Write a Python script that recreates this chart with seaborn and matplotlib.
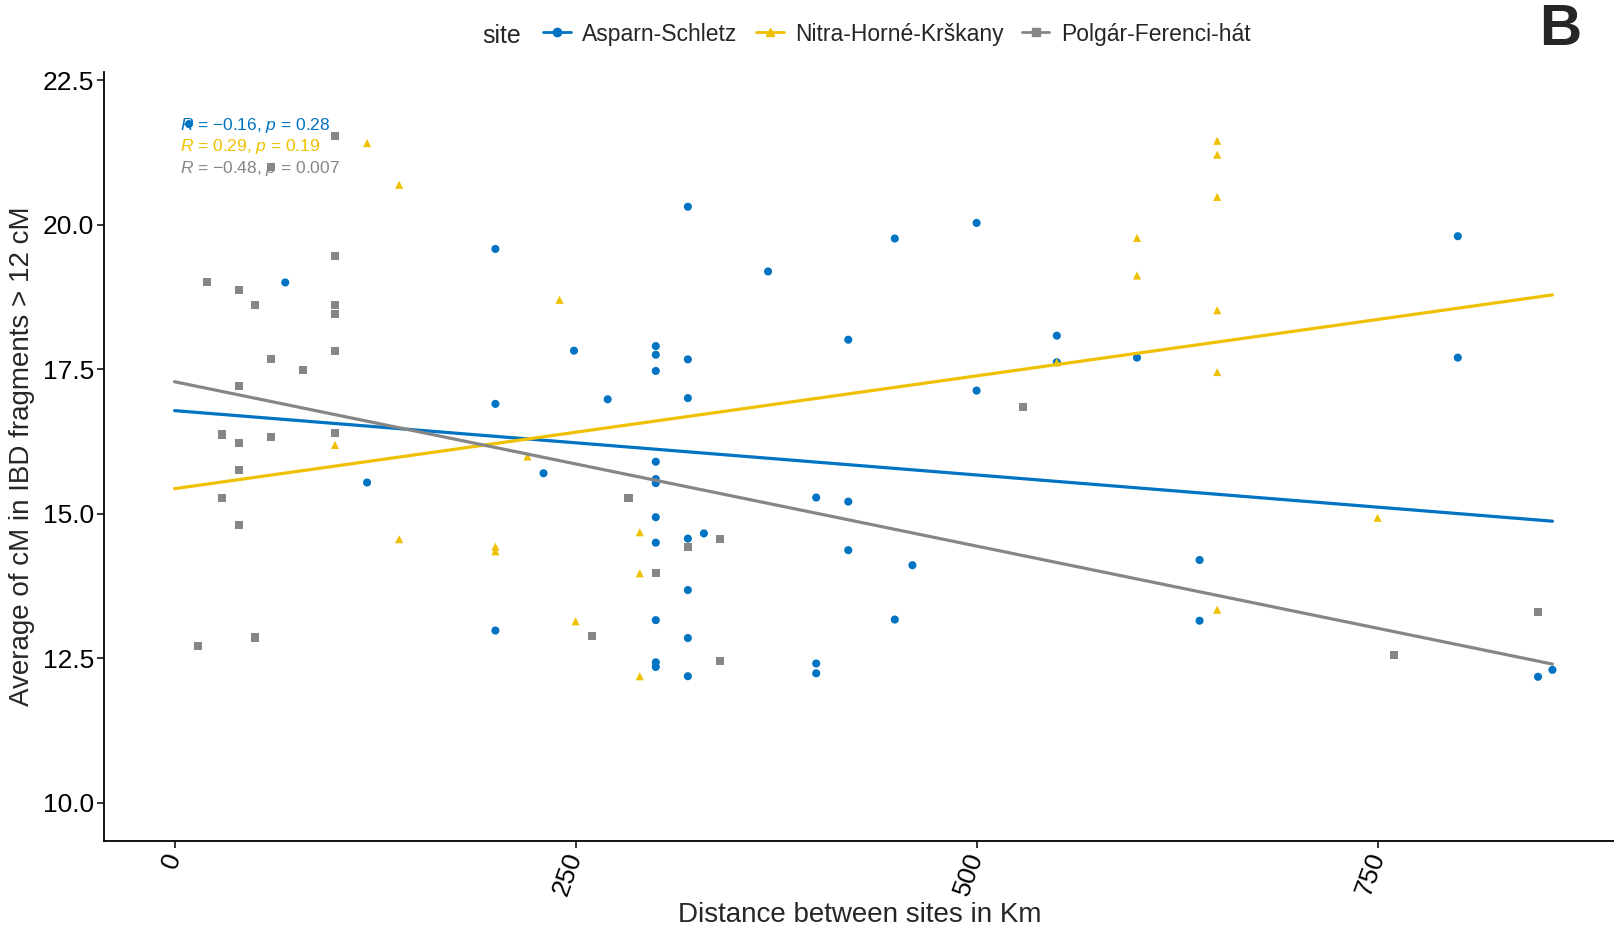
import numpy as np
import pandas as pd
import matplotlib
matplotlib.use("Agg")
import matplotlib.pyplot as plt
from matplotlib.lines import Line2D
import seaborn as sns

# --- data ---
sites = ["Asparn-Schletz", "Nitra-Horné-Krškany", "Polgár-Ferenci-hát"]
site_colors = ["#0073C2", "#EFC000", "#868686"]
site_markers = ["o", "^", "s"]

asparn_km = [9, 69, 120, 200, 200, 200, 230, 249, 270,
             300, 300, 300, 300, 300, 300, 300, 300, 300, 300, 300,
             320, 320, 320, 320, 320, 320, 320, 330, 370,
             400, 400, 400, 420, 420, 420, 449, 449, 460,
             500, 500, 550, 550, 600, 639, 639, 800, 800, 850, 859]
asparn_cm = [21.74, 19.0, 15.54, 19.58, 16.9, 12.98, 15.7, 17.82, 16.98,
             17.9, 17.75, 17.47, 15.9, 15.6, 15.53, 14.94, 14.5, 13.16, 12.43, 12.35,
             20.31, 17.67, 17.0, 14.57, 13.68, 12.85, 12.19, 14.66, 19.19,
             15.28, 12.41, 12.24, 18.01, 15.21, 14.37, 19.76, 13.17, 14.11,
             20.03, 17.13, 18.08, 17.62, 17.7, 14.2, 13.15, 19.8, 17.7, 12.18, 12.3]

nitra_km = [100, 120, 140, 140, 200, 200, 220, 240, 250, 290, 290, 290,
            550, 600, 600, 650, 650, 650, 650, 650, 650, 750]
nitra_cm = [16.19, 21.41, 20.69, 14.56, 14.43, 14.35, 15.99, 18.7, 13.14, 14.68, 13.97, 12.19,
            17.62, 19.77, 19.12, 21.45, 21.21, 20.48, 18.52, 17.45, 13.34, 14.93]

polgar_km = [14.5, 20, 29.5, 29.5, 40, 40, 40, 40, 40, 50, 50, 60, 60, 60, 80,
             100, 100, 100, 100, 100, 100, 260, 283, 300, 320, 340, 340, 529, 760, 850]
polgar_cm = [12.71, 19.01, 16.37, 15.28, 18.87, 17.21, 16.23, 15.75, 14.8, 18.61, 12.86,
             21.0, 17.68, 16.32, 17.49, 21.53, 19.46, 18.61, 18.46, 17.82, 16.4,
             12.88, 15.28, 13.97, 14.42, 14.57, 12.45, 16.84, 12.55, 13.3]

stat_labels = [r"$R$ = −0.16, $p$ = 0.28",
               r"$R$ = 0.29, $p$ = 0.19",
               r"$R$ = −0.48, $p$ = 0.007"]

y_ticks = [10.0, 12.5, 15.0, 17.5, 20.0, 22.5]
x_ticks = [0, 250, 500, 750]

df = pd.concat([
    pd.DataFrame({"site": sites[0], "km": asparn_km, "cm": asparn_cm}),
    pd.DataFrame({"site": sites[1], "km": nitra_km, "cm": nitra_cm}),
    pd.DataFrame({"site": sites[2], "km": polgar_km, "cm": polgar_cm}),
], ignore_index=True)

sns.set_theme(style="ticks")
plt.rcParams["font.family"] = ["Liberation Sans", "DejaVu Sans"]
plt.rcParams["mathtext.fontset"] = "custom"
plt.rcParams["mathtext.rm"] = "Liberation Sans"
plt.rcParams["mathtext.it"] = "Liberation Sans:italic"

fig = plt.figure(figsize=(16.15, 9.35), dpi=100)
ax = fig.add_axes([104 / 1615, 1 - 841 / 935, 1 - 104 / 1615, (841 - 72) / 935])

palette = dict(zip(sites, site_colors))
markers = dict(zip(sites, site_markers))
sns.scatterplot(data=df, x="km", y="cm", hue="site", style="site",
                palette=palette, markers=markers, s=34, linewidth=0,
                legend=False, ax=ax, zorder=2)

# regression lines over the full distance range
xs = np.array([0, df["km"].max()])
for site, col in zip(sites, site_colors):
    sub = df[df["site"] == site]
    slope, icpt = np.polyfit(sub["km"], sub["cm"], 1)
    ax.plot(xs, icpt + slope * xs, color=col, lw=2.3, zorder=3)

for i, (lab, col) in enumerate(zip(stat_labels, site_colors)):
    ax.text(0.05, 0.931 - i * 0.028, lab, transform=ax.transAxes,
            color=col, fontsize=12.5, va="center", ha="left")

ax.set_xlim(-44, 898)
ax.set_ylim(9.34, 22.64)
ax.set_yticks(y_ticks)
ax.set_yticklabels([f"{v:.1f}" for v in y_ticks], fontsize=19, color="black")
ax.set_xticks(x_ticks)
ax.set_xticklabels([str(v) for v in x_ticks], fontsize=19, color="black",
                   rotation=70, ha="right", va="center", rotation_mode="anchor")
ax.tick_params(axis="both", length=5, width=1.1, color="black", pad=4)
ax.tick_params(axis="y", pad=2)
for side in ["top", "right"]:
    ax.spines[side].set_visible(False)
for side in ["left", "bottom"]:
    ax.spines[side].set_linewidth(1.3)
    ax.spines[side].set_color("black")
ax.set_xlabel("Distance between sites in Km", fontsize=20, labelpad=2)
ax.set_ylabel("Average of cM in IBD fragments > 12 cM", fontsize=20, labelpad=6)

handles = [Line2D([0], [0], color=c, marker=m, markersize=6, lw=2)
           for c, m in zip(site_colors, site_markers)]
fig.text(482 / 1615, 1 - 36 / 935, "site", fontsize=18, ha="left", va="center")
fig.legend(handles, sites, loc="center", bbox_to_anchor=(897 / 1615, 1 - 34 / 935),
           ncol=3, frameon=False, fontsize=16.5, handlelength=1.2,
           handletextpad=0.5, columnspacing=0.8)

fig.text(1560 / 1615, 1 - 30 / 935, "B", fontsize=42, fontweight="bold",
         ha="center", va="center")

fig.savefig("out.png", dpi=100)
